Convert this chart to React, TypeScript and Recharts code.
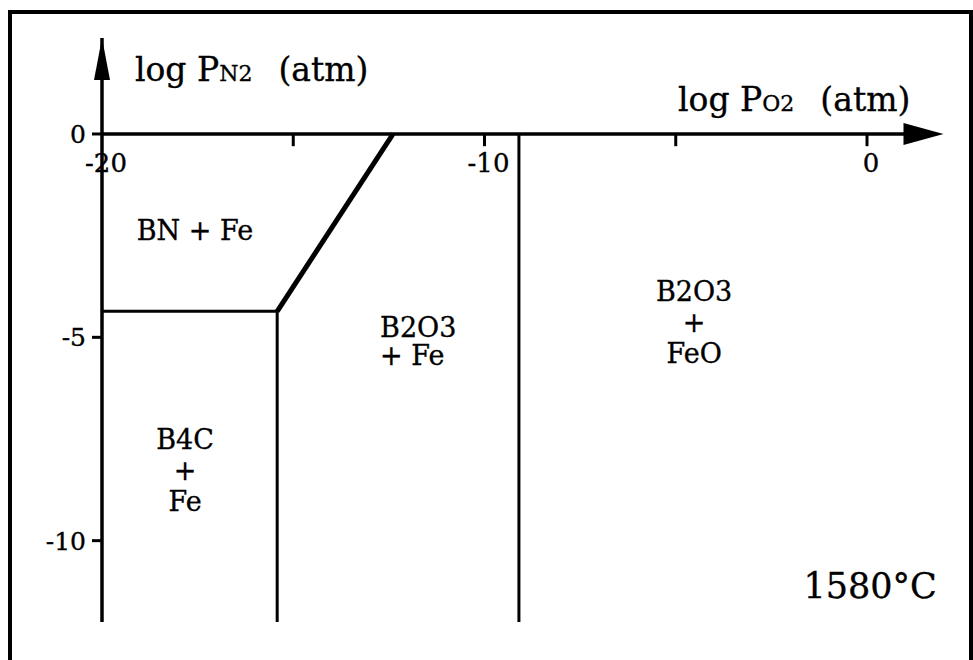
import React from 'react';
import { LineChart, Line, XAxis, YAxis, ReferenceLine, ReferenceDot } from 'recharts';

// phase boundaries, log PO2 (x) vs log PN2 (y)
const bnB4cBoundary = [
  { x: -20, y: -4.36 },
  { x: -15.42, y: -4.36 },
];
const b4cB2o3Boundary = [
  { x: -15.42, y: -12 },
  { x: -15.42, y: -4.36 },
];
const bnB2o3Boundary = [
  { x: -15.42, y: -4.36 },
  { x: -12.39, y: 0 },
];
const feFeoBoundary = [
  { x: -9.1, y: -12 },
  { x: -9.1, y: 0 },
];

const xTickMarks = [-15, -10, -5, 0];
const xTickLabels = [
  { x: -20, text: '-20' },
  { x: -10, text: '-10' },
  { x: 0, text: '0' },
];
const yTicks = [0, -5, -10];

const regionLabels = [
  { x: -17.57, y: -2.36, lines: ['BN + Fe'], anchor: 'middle' },
  { x: -12.73, y: -5.09, lines: ['B2O3', '+ Fe'], anchor: 'start' },
  { x: -4.52, y: -4.62, lines: ['B2O3', '+', 'FeO'], anchor: 'middle' },
  { x: -17.83, y: -8.26, lines: ['B4C', '+', 'Fe'], anchor: 'middle' },
];
const tempLabel = { x: 0.08, y: -11.09, text: '1580°C' };

const FONT = "'DejaVu Serif', serif";
const X_MAX = 2;
const Y_MAX = 2.36;
// scanned text looks heavier than a plain regular weight
const ink = { fill: '#000', stroke: '#000', strokeWidth: 0.35 };

const App: React.FC = () => {
  return (
    <div style={{ position: 'absolute', left: 0, top: 0, width: 973, height: 660, background: '#fff' }}>
      <div
        style={{
          position: 'absolute',
          left: 8,
          top: 10,
          width: 957,
          height: 660,
          borderTop: '4px solid #000',
          borderLeft: '4px solid #000',
          borderRight: '4px solid #000',
        }}
      />
      <LineChart
        width={973}
        height={660}
        margin={{ top: 38, right: 29.5, bottom: 38, left: 0 }}
        style={{ position: 'absolute', left: 0, top: 0 }}
      >
        <XAxis type="number" dataKey="x" domain={[-20, X_MAX]} hide allowDataOverflow />
        <YAxis
          type="number"
          dataKey="y"
          domain={[-12, Y_MAX]}
          ticks={yTicks}
          width={102}
          allowDataOverflow
          axisLine={{ stroke: '#000', strokeWidth: 3.5 }}
          tickLine={{ stroke: '#000', strokeWidth: 3 }}
          tickSize={10}
          tickMargin={6}
          tick={{ ...ink, fontSize: 25, fontFamily: FONT }}
        />

        {/* x axis at log PN2 = 0 */}
        <ReferenceLine
          segment={[{ x: -20, y: 0 }, { x: X_MAX - 1, y: 0 }]}
          stroke="#000"
          strokeWidth={3.5}
          ifOverflow="visible"
        />
        {xTickMarks.map((t) => (
          <ReferenceLine
            key={t}
            segment={[{ x: t, y: 0 }, { x: t, y: -0.3 }]}
            stroke="#000"
            strokeWidth={3}
            ifOverflow="visible"
          />
        ))}
        {xTickLabels.map((t) => (
          <ReferenceDot
            key={t.text}
            x={t.x}
            y={0}
            r={0}
            ifOverflow="visible"
            shape={(p: any) => (
              <text x={p.cx + 4} y={p.cy + 38} textAnchor="middle" fontSize={26} fontFamily={FONT} {...ink}>
                {t.text}
              </text>
            )}
          />
        ))}

        {/* arrow heads */}
        <ReferenceDot
          x={X_MAX}
          y={0}
          r={0}
          ifOverflow="visible"
          shape={(p: any) => (
            <polygon points={`${p.cx},${p.cy} ${p.cx - 40},${p.cy - 11} ${p.cx - 40},${p.cy + 11}`} fill="#000" />
          )}
        />
        <ReferenceDot
          x={-20}
          y={Y_MAX}
          r={0}
          ifOverflow="visible"
          shape={(p: any) => (
            <polygon points={`${p.cx},${p.cy} ${p.cx - 8},${p.cy + 42} ${p.cx + 8},${p.cy + 42}`} fill="#000" />
          )}
        />

        {/* axis titles */}
        <ReferenceDot
          x={-19.14}
          y={1.57}
          r={0}
          ifOverflow="visible"
          shape={(p: any) => (
            <text x={p.cx} y={p.cy + 11} fontSize={33} fontFamily={FONT} {...ink}>
              log P<tspan fontSize={22}>N2</tspan>
              <tspan dx={26}>(atm)</tspan>
            </text>
          )}
        />
        <ReferenceDot
          x={-4.94}
          y={0.84}
          r={0}
          ifOverflow="visible"
          shape={(p: any) => (
            <text x={p.cx} y={p.cy + 11} fontSize={33} fontFamily={FONT} {...ink}>
              log P<tspan fontSize={22}>O2</tspan>
              <tspan dx={26}>(atm)</tspan>
            </text>
          )}
        />

        {/* boundaries */}
        <Line data={bnB4cBoundary} dataKey="y" stroke="#000" strokeWidth={3} dot={false} isAnimationActive={false} />
        <Line data={b4cB2o3Boundary} dataKey="y" stroke="#000" strokeWidth={3} dot={false} isAnimationActive={false} />
        <Line data={bnB2o3Boundary} dataKey="y" stroke="#000" strokeWidth={5} dot={false} isAnimationActive={false} />
        <Line data={feFeoBoundary} dataKey="y" stroke="#000" strokeWidth={3} dot={false} isAnimationActive={false} />

        {/* region labels */}
        {regionLabels.map((r, i) => (
          <ReferenceDot
            key={i}
            x={r.x}
            y={r.y}
            r={0}
            ifOverflow="visible"
            shape={(p: any) => {
              const lh = r.lines.length === 3 ? 31 : 28;
              const top = p.cy - ((r.lines.length - 1) * lh) / 2 + 10;
              return (
                <text textAnchor={r.anchor} fontSize={27} fontFamily={FONT} {...ink}>
                  {r.lines.map((l, j) => (
                    <tspan key={j} x={p.cx} y={top + j * lh}>
                      {l}
                    </tspan>
                  ))}
                </text>
              );
            }}
          />
        ))}
        <ReferenceDot
          x={tempLabel.x}
          y={tempLabel.y}
          r={0}
          ifOverflow="visible"
          shape={(p: any) => (
            <text x={p.cx} y={p.cy + 13} textAnchor="middle" fontSize={35} fontFamily={FONT} {...ink}>
              {tempLabel.text}
            </text>
          )}
        />
      </LineChart>
    </div>
  );
};

export default App;
